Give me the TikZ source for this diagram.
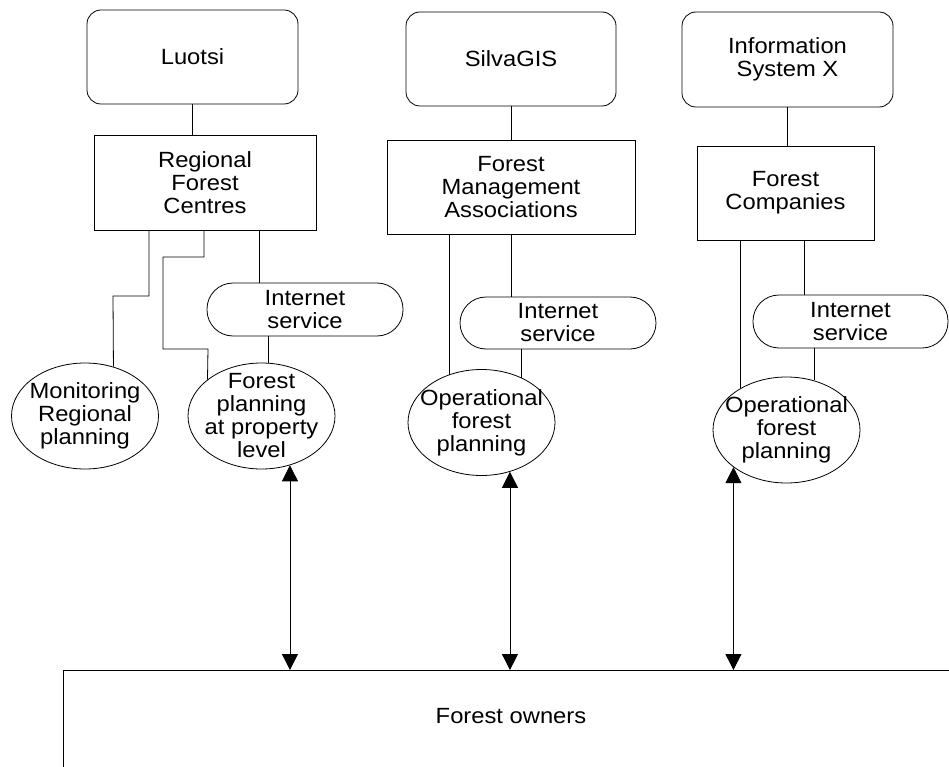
\documentclass[tikz,border=0pt]{standalone}
\usepackage{fontspec}
\setmainfont{Liberation Sans}[FakeStretch=1.08]
\usetikzlibrary{arrows.meta,shapes.geometric}
\begin{document}
\begin{tikzpicture}[x=1pt,y=-1pt,
  every node/.style={font=\fontsize{22}{23}\selectfont, align=center, inner sep=0pt},
  ln/.style={line width=0.8pt, draw=black},
  sysbox/.style={draw, line width=0.8pt, rounded corners=14pt, minimum height=94pt},
  orgbox/.style={draw, line width=0.8pt, minimum height=94pt},
  inet/.style={draw, line width=0.8pt, rounded corners=26pt, minimum width=196pt, minimum height=53pt},
  ellip/.style={draw, ellipse, line width=0.8pt, minimum width=147pt, minimum height=106pt},
  dbl/.style={line width=0.8pt, arrows={Triangle[width=16pt,length=16pt]-Triangle[width=16pt,length=16pt]}}
]
\useasboundingbox (0,0) rectangle (949,767);
\clip (0,0) rectangle (949,767);

% top systems
\node (luotsi) [sysbox, minimum width=211pt] at (192.5,57) {Luotsi};
\node (silva) [sysbox, minimum width=210pt] at (511,59) {SilvaGIS};
\node (infox) [sysbox, minimum width=211pt, minimum height=95pt] at (787.5,59.5) {Information\\System X};

% organisations
\node (rfc) [orgbox, minimum width=222pt, minimum height=95pt] at (205,182.5) {Regional\\Forest\\Centres};
\node (fma) [orgbox, minimum width=248pt] at (511,187) {Forest\\Management\\Associations};
\node (fc) [orgbox, minimum width=177pt] at (785.5,193) {Forest\\Companies};

% internet services
\node (i1) [inet] at (305,309.5) {Internet\\service};
\node (i2) [inet, minimum height=52pt] at (558,323) {Internet\\service};
\node (i3) [inet, minimum width=195pt] at (850.5,321.5) {Internet\\service};

% ellipses
\node (mon) [ellip] at (85,416) {};
\node (mont) at (mon) {Monitoring\\Regional\\planning};
\node (fp) [ellip] at (261.5,416) {};
\node (fpt) at (fp) {Forest\\planning\\at property\\level};
\node (op1) [ellip] at (481.5,422.5) {};
\node (op1t) at (op1) {Operational\\forest\\planning};
\node (op2) [ellip] at (786.5,430) {};
\node (op2t) at (op2) {Operational\\forest\\planning};

% forest owners
\node (fo) [draw, line width=0.8pt, anchor=north west, minimum width=1000pt, minimum height=200pt] at (63,670) {};
\node (fot) at (511,716) {Forest owners};

% connectors: systems to organisations
\draw[ln] (luotsi.south) -- (luotsi.south |- rfc.north);
\draw[ln] (silva.south) -- (silva.south |- fma.north);
\draw[ln] (infox.south) -- (infox.south |- fc.north);

% Regional Forest Centres branches
\coordinate (mb) at (113,296);
\draw[ln] ([xshift=-56pt]rfc.south) |- (mb) -- (mon.60);
\coordinate (f1) at (163,257);
\coordinate (f2) at (208,349);
\draw[ln] ([xshift=-1pt]rfc.south) |- (f1) |- (f2) -- (fp.146);
\draw[ln] ([xshift=54pt]rfc.south) -- ([xshift=54pt]rfc.south |- i1.north);
\draw[ln] ([xshift=-37pt]i1.south) -- ([xshift=-37pt]i1.south |- fp.north);

% Forest Management Associations branches
\draw[ln] (op1.124) -- (op1.124 |- fma.south);
\draw[ln] (fma.south) -- (fma.south |- i2.north);
\draw[ln] (op1.48) -- (op1.48 |- i2.south);

% Forest Companies branches
\draw[ln] (op2.138) -- (op2.138 |- fc.south);
\draw[ln] ([xshift=18.5pt]fc.south) -- ([xshift=18.5pt]fc.south |- i3.north);
\draw[ln] (op2.61) -- (op2.61 |- i3.south);

% arrows to forest owners
\draw[dbl] (fp.-60) -- (fp.-60 |- fo.north);
\draw[dbl] (op1.-60) -- (op1.-60 |- fo.north);
\draw[dbl] (op2.215) -- (op2.215 |- fo.north);
\end{tikzpicture}
\end{document}
